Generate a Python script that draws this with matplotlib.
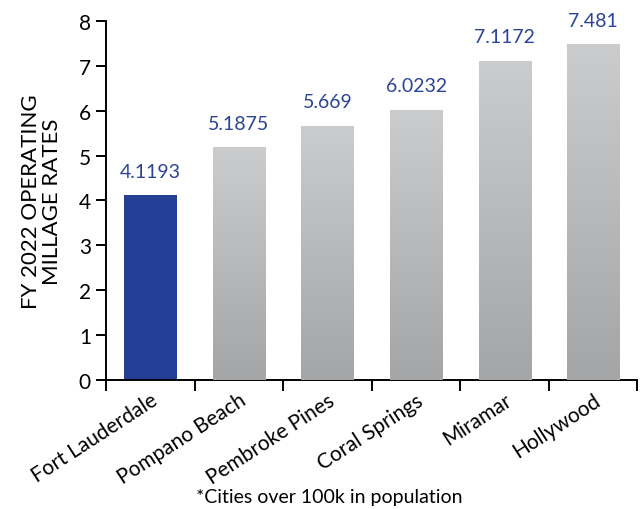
import numpy as np
import matplotlib
matplotlib.use("Agg")
from matplotlib import pyplot as plt
from matplotlib.colors import LinearSegmentedColormap

cities = ["Fort Lauderdale", "Pompano Beach", "Pembroke Pines",
          "Coral Springs", "Miramar", "Hollywood"]
rates = [4.1193, 5.1875, 5.669, 6.0232, 7.1172, 7.481]
labels = ["4.1193", "5.1875", "5.669", "6.0232", "7.1172", "7.481"]

plt.rcParams['font.family'] = ['Lato', 'DejaVu Sans']

blue = "#233f96"
text_blue = "#2b4496"
grays = LinearSegmentedColormap.from_list("grays", ["#a4a5a7", "#cbcccd"])

fig = plt.figure(figsize=(6.4, 5.1), dpi=100)
ax = fig.add_axes([0.166, 0.253, 0.83, 0.704])

x = np.arange(len(cities))
w = 0.59
bars = ax.bar(x, rates, width=w, color=[blue] + ["#b8b9bb"] * 5, zorder=2)

# vertical gradient on the grey bars, light at the top
grad = np.linspace(0, 1, 256).reshape(-1, 1)
for b in list(bars)[1:]:
    x0, h = b.get_x(), b.get_height()
    im = ax.imshow(grad, cmap=grays, origin="lower", aspect="auto",
                   extent=[x0, x0 + w, 0, h], zorder=3)
    im.set_clip_path(b)

for xi, r, s in zip(x, rates, labels):
    ax.annotate(s, (xi, r), xytext=(0, 11), textcoords="offset points",
                ha="center", va="bottom", color=text_blue, fontsize=14)

ax.set_xlim(-0.5, len(cities) - 0.5)
ax.set_ylim(0, 8)
ax.set_yticks(range(9))
ax.tick_params(axis="y", labelsize=15, length=7, width=1.4, pad=4)

ax.set_xticks(np.arange(-0.5, len(cities)), labels=[""] * (len(cities) + 1))
ax.set_xticks(x, labels=cities, minor=True)
ax.tick_params(axis="x", which="minor", length=0, labelsize=15, pad=7)
ax.tick_params(axis="x", which="major", length=8, width=1.4)
for t in ax.get_xticklabels(minor=True):
    t.set_rotation(33)
    t.set_ha("right")
    t.set_rotation_mode("anchor")

for side in ("top", "right"):
    ax.spines[side].set_visible(False)
for side in ("left", "bottom"):
    ax.spines[side].set_linewidth(1.4)

ax.set_ylabel("FY 2022 OPERATING\nMILLAGE RATES", fontsize=16, labelpad=12,
              linespacing=1.1)

fig.text(0.515, 0.025, "*Cities over 100k in population", ha="center",
         va="center", fontsize=14)

fig.savefig("out.png", dpi=100)
